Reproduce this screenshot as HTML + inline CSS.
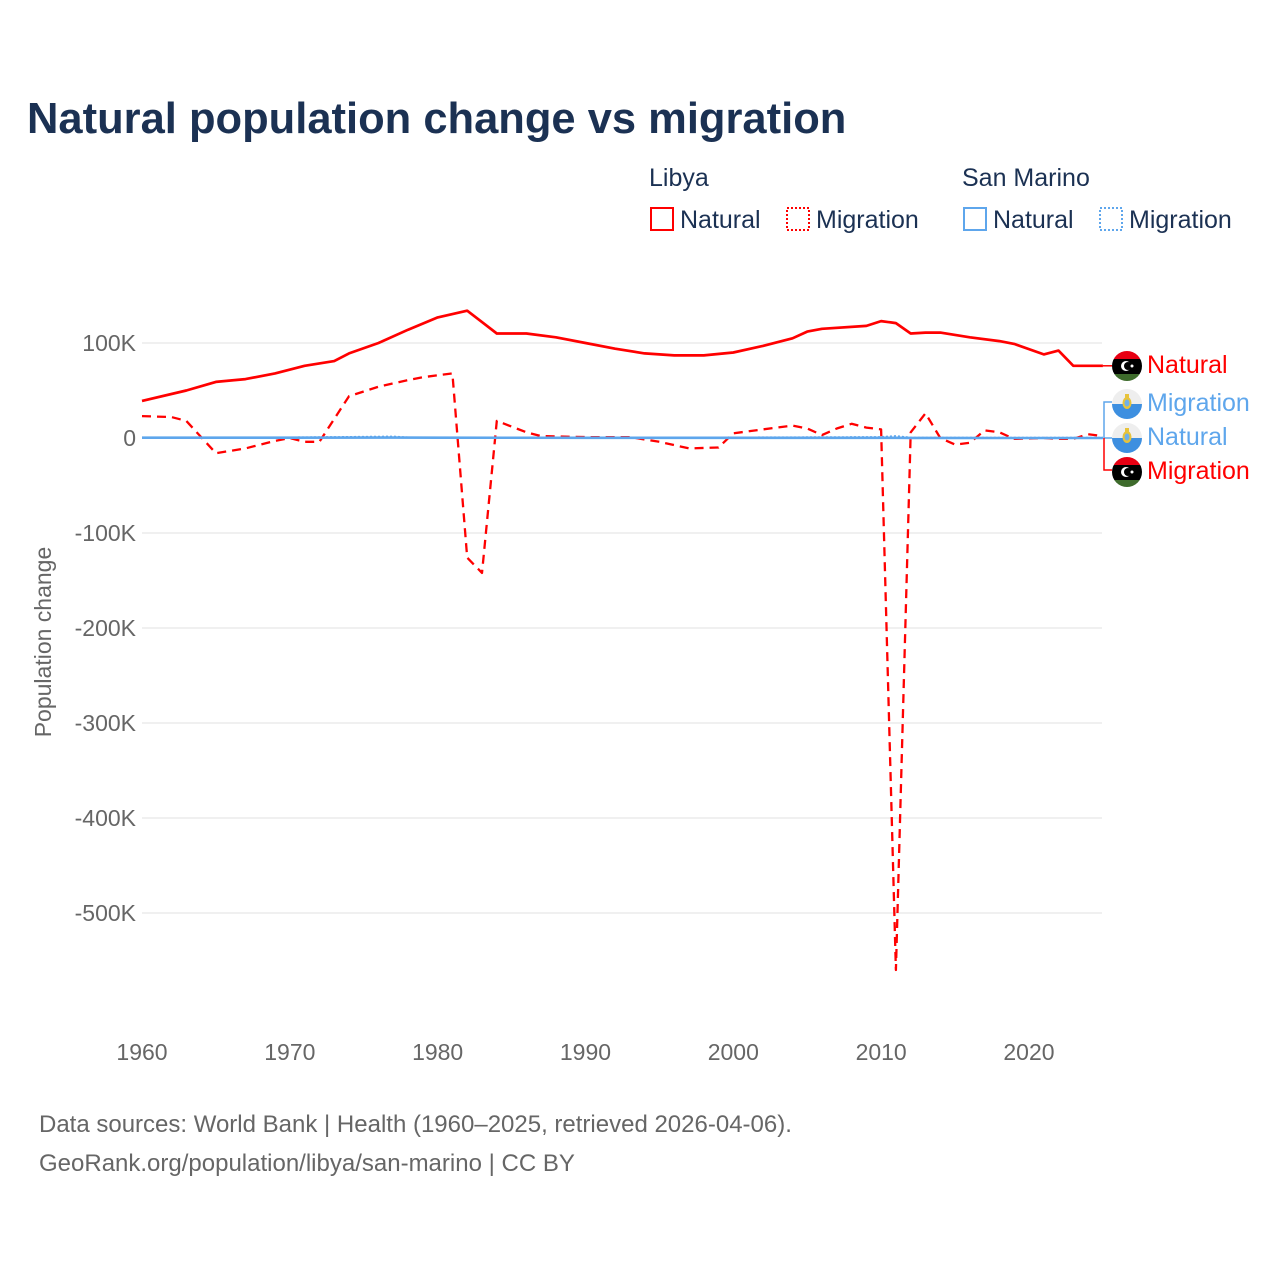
<!DOCTYPE html>
<html><head><meta charset="utf-8">
<style>
body{margin:0;background:#fff;font-family:"Liberation Sans",sans-serif;}
svg{display:block}
</style></head>
<body>
<svg id="chart" width="1280" height="1280" viewBox="0 0 1280 1280" xmlns="http://www.w3.org/2000/svg">
<defs>
<clipPath id="fc"><circle cx="0" cy="0" r="15"/></clipPath>
</defs>
<text x="27" y="133" font-size="43.5" font-weight="bold" fill="#1b3153">Natural population change vs migration</text>
<g font-size="25" fill="#1b3153">
<text x="649" y="186">Libya</text>
<text x="962" y="186">San Marino</text>
<g><rect x="651" y="208" width="22" height="22" fill="none" stroke="#ff0000" stroke-width="2"/><text x="680" y="228">Natural</text></g>
<g><rect x="787" y="208" width="22" height="22" fill="none" stroke="#ff0000" stroke-width="2" stroke-dasharray="2,2"/><text x="816" y="228">Migration</text></g>
<g><rect x="964" y="208" width="22" height="22" fill="none" stroke="#5ea6ec" stroke-width="2"/><text x="993" y="228">Natural</text></g>
<g><rect x="1100" y="208" width="22" height="22" fill="none" stroke="#5ea6ec" stroke-width="2" stroke-dasharray="2,2"/><text x="1129" y="228">Migration</text></g>
</g>
<g id="grid"></g>
<g id="axes"></g>
<g id="series"></g>
<g id="labels"></g>
<text transform="translate(51,642) rotate(-90)" text-anchor="middle" font-size="23" fill="#666">Population change</text>
<text x="39" y="1132" font-size="24" fill="#666">Data sources: World Bank | Health (1960–2025, retrieved 2026-04-06).</text>
<text x="39" y="1171" font-size="24" fill="#666">GeoRank.org/population/libya/san-marino | CC BY</text>
</svg>
<script>
const libyaNatKY=[1960,1963,1965,1967,1969,1971,1973,1974,1976,1978,1980,1982,1983,1984,1986,1988,1990,1992,1994,1996,1998,2000,2002,2004,2005,2006,2009,2010,2011,2012,2013,2014,2016,2018,2019,2021,2022,2023,2024,2025];
const libyaNatKV=[39,50,59,62,68,76,81,89,100,114,127,134,122,110,110,106,100,94,89,87,87,90,97,105,112,115,118,123,121,110,111,111,106,102,99,88,92,76,76,76];
const libyaMigKY=[1960,1962,1963,1965,1967,1969,1970,1971,1972,1974,1976,1978,1979,1981,1982,1983,1984,1986,1987,1990,1993,1995,1997,1999,2000,2002,2004,2005,2006,2007,2008,2009,2010,2011,2012,2013,2014,2015,2016,2017,2018,2019,2021,2022,2023,2024,2025];
const libyaMigKV=[23,22,18,-16,-11,-3,0,-4,-4,44,54,61,64,68,-126,-142,18,6,2,1,1,-4,-11,-10,5,9,13,10,3,10,15,11,9,-560,6,26,0,-7,-5,8,6,-1,0,-1,-1,4,2];
const smNatKY=[1960,1970,1977,1980,1990,2000,2010,2011,2012,2020,2025];
const smNatKV=[0.3,0.3,0.4,0.3,0.2,0.2,0.2,0.2,0.1,0,0];
const smMigKY=[1960,1970,1977,1978,1990,2000,2010,2011,2012,2020,2025];
const smMigKV=[0.2,0.5,1.5,0.5,0.3,0.5,1,2,0.3,0.2,0.2];
const yTicks=[100,0,-100,-200,-300,-400,-500];
const yTickLabels=["100K","0","-100K","-200K","-300K","-400K","-500K"];
const xTicks=[1960,1970,1980,1990,2000,2010,2020];

const X=y=>142+(y-1960)*14.783;
const Y=v=>438-v*0.95;
const NS="http://www.w3.org/2000/svg";
function mk(tag,attrs,parent){const e=document.createElementNS(NS,tag);for(const k in attrs)e.setAttribute(k,attrs[k]);parent.appendChild(e);return e;}
const grid=document.getElementById('grid'),axes=document.getElementById('axes'),series=document.getElementById('series'),labels=document.getElementById('labels');
yTicks.forEach((t,i)=>{
 const l=mk('line',{x1:142,x2:1102,y1:Y(t),y2:Y(t),stroke:'#e6e6e6','stroke-width':1.3},grid);
 
 
 const tx=mk('text',{x:136,y:Y(t)+8,'text-anchor':'end','font-size':23,fill:'#666'},axes);
 tx.textContent=yTickLabels[i];
 
 
});
xTicks.forEach(t=>{
 const tx=mk('text',{x:X(t),y:1060,'text-anchor':'middle','font-size':23,fill:'#666'},axes);
 tx.textContent=t;
 
 
});
function line(xs,vs,color,dash,name,w){
 const d=xs.map((y,i)=>(i?'L':'M')+X(y).toFixed(1)+','+Y(vs[i]).toFixed(1)).join('');
 const p=mk('path',{d:d,fill:'none',stroke:color,'stroke-width':w||2.5,'stroke-linejoin':'round'},series);
 if(dash)p.setAttribute('stroke-dasharray',dash);
 
 
}
line(smMigKY,smMigKV,'#5ea6ec','2,2','san-marino-migration-line',2);
line(libyaMigKY,libyaMigKV,'#ff0000','9,6','libya-migration-line',2.3);
line(smNatKY,smNatKV,'#5ea6ec',null,'san-marino-natural-line',2.6);
line(libyaNatKY,libyaNatKV,'#ff0000',null,'libya-natural-line',2.7);

const lastNat=Y(libyaNatKV[libyaNatKV.length-1]);
const lp=mk('path',{d:`M${X(2025)},${lastNat}L1112,${lastNat}`,stroke:'#ff0000','stroke-width':1.5,fill:'none'},labels);


const c1=mk('path',{d:'M1112,402L1104,402L1104,438L1112,438',stroke:'#5ea6ec','stroke-width':1.5,fill:'none'},labels);


const c2=mk('path',{d:'M1104,438L1104,470L1112,470',stroke:'#ff0000','stroke-width':1.5,fill:'none'},labels);


function flag(cx,cy,type){
 const g=mk('g',{transform:`translate(${cx},${cy})`},labels);
 
 
 const gg=mk('g',{'clip-path':'url(#fc)'},g);
 if(type==='ly'){
  mk('rect',{x:-15,y:-15,width:30,height:8,fill:'#e70013'},gg);
  mk('rect',{x:-15,y:-7,width:30,height:15,fill:'#000'},gg);
  mk('rect',{x:-15,y:8,width:30,height:8,fill:'#3e6b2c'},gg);
  mk('circle',{cx:-1,cy:0,r:5,fill:'#fff'},gg);
  mk('circle',{cx:1,cy:0,r:4,fill:'#000'},gg);
  mk('circle',{cx:5,cy:0,r:1.5,fill:'#fff'},gg);
 }else{
  mk('rect',{x:-15,y:-15,width:30,height:15,fill:'#eeeeee'},gg);
  mk('rect',{x:-15,y:0,width:30,height:15,fill:'#3d8fe0'},gg);
  mk('ellipse',{cx:0,cy:-1,rx:4.5,ry:6,fill:'#e8c33a'},gg);
  mk('ellipse',{cx:0,cy:-1,rx:2.5,ry:3.5,fill:'#6fb0e8'},gg);
  mk('rect',{x:-2,y:-10,width:4,height:4,fill:'#e8c33a'},gg);
 }
}
flag(1127,366,'ly');flag(1127,404,'sm');flag(1127,438,'sm');flag(1127,472,'ly');
[['Natural',364,'#ff0000','end-label-libya-natural'],['Migration',402,'#5ea6ec','end-label-san-marino-migration'],['Natural',436,'#5ea6ec','end-label-san-marino-natural'],['Migration',470,'#ff0000','end-label-libya-migration']].forEach(a=>{
 const t=mk('text',{x:1147,y:a[1]+9,'font-size':25,fill:a[2]},labels);
 t.textContent=a[0];
 
 
});
</script>
</body></html>
